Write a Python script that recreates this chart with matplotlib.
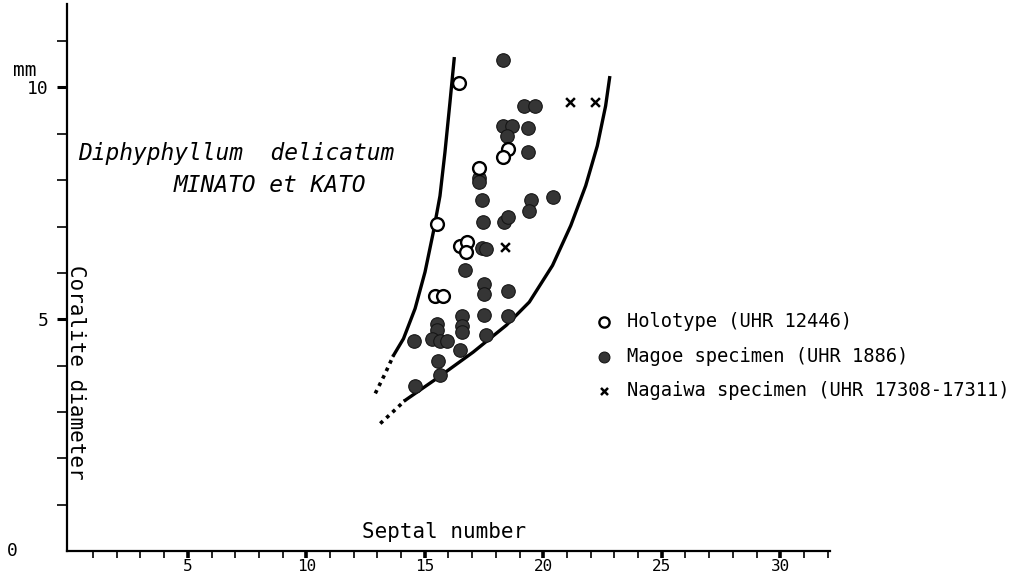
import numpy as np
import matplotlib
matplotlib.use("Agg")
import matplotlib.pyplot as plt
from matplotlib.ticker import FixedLocator

# data (septal number, corallite diameter in mm)
holotype_x = [16.43, 18.5, 18.28, 17.3, 15.5, 16.48, 16.77, 16.73, 15.43, 15.77]
holotype_y = [10.1, 8.67, 8.49, 8.26, 7.05, 6.58, 6.67, 6.45, 5.5, 5.5]

magoe_x = [18.28, 19.2, 19.66, 18.28, 18.7, 18.45, 19.37, 19.37, 17.3, 17.3,
           17.4, 19.5, 19.41, 20.4, 17.44, 18.36, 18.5, 17.4, 17.6, 16.69,
           17.48, 17.48, 18.5, 17.48, 18.5, 16.56, 16.56, 16.56, 15.5, 15.5,
           15.3, 15.64, 15.93, 14.55, 16.48, 17.57, 15.56, 15.64, 14.6]
magoe_y = [10.6, 9.61, 9.61, 9.16, 9.16, 8.95, 9.12, 8.6, 8.04, 7.95,
           7.57, 7.57, 7.33, 7.63, 7.1, 7.1, 7.2, 6.54, 6.52, 6.06,
           5.76, 5.55, 5.61, 5.1, 5.08, 5.08, 4.86, 4.73, 4.9, 4.76,
           4.58, 4.54, 4.52, 4.52, 4.34, 4.65, 4.09, 3.79, 3.55]

nagaiwa_x = [21.13, 22.18, 18.4]
nagaiwa_y = [9.68, 9.68, 6.56]

# hand-drawn envelope lines (dotted lower ends, then solid)
left_dot_x = [12.91, 13.3, 13.68]
left_dot_y = [3.4, 3.8, 4.22]
left_x = [13.68, 14.1, 14.59, 15.01, 15.36, 15.64, 15.85, 16.06, 16.24]
left_y = [4.22, 4.58, 5.23, 6.02, 6.88, 7.66, 8.6, 9.67, 10.62]

right_dot_x = [13.12, 13.65, 14.17]
right_dot_y = [2.75, 3.0, 3.25]
right_x = [14.17, 15.5, 17.04, 18.44, 19.41, 20.39, 21.16, 21.79, 22.28, 22.63, 22.8]
right_y = [3.25, 3.72, 4.29, 4.87, 5.37, 6.16, 7.02, 7.88, 8.74, 9.6, 10.21]

x_major = [5, 10, 15, 20, 25, 30]
y_major = [5, 10]

legend_labels = ["Holotype (UHR 12446)", "Magoe specimen (UHR 1886)",
                 "Nagaiwa specimen (UHR 17308-17311)"]

MONO = "DejaVu Sans Mono"
W, H = 1015, 579

fig = plt.figure(figsize=(W / 100, H / 100), dpi=100)
ax = fig.add_axes([67 / W, 28 / H, 763 / W, 547 / H])
ax.set_xlim(-0.1, 32.1)
ax.set_ylim(0, 11.8)

for s in ["top", "right"]:
    ax.spines[s].set_visible(False)
for s in ["left", "bottom"]:
    ax.spines[s].set_linewidth(1.6)

ax.xaxis.set_major_locator(FixedLocator(x_major))
ax.xaxis.set_minor_locator(FixedLocator([v for v in range(1, 33) if v not in x_major]))
ax.yaxis.set_major_locator(FixedLocator(y_major))
ax.yaxis.set_minor_locator(FixedLocator([v for v in range(1, 12) if v not in y_major]))
ax.set_xticklabels([str(v) for v in x_major])
ax.set_yticklabels([str(v) for v in y_major])
ax.tick_params(axis="x", which="major", length=5, width=2.6, pad=1, labelsize=11.5)
ax.tick_params(axis="x", which="minor", length=5, width=1.2)
ax.tick_params(axis="y", which="major", length=7, width=2.2, pad=6, labelsize=13)
ax.tick_params(axis="y", which="minor", length=7, width=1.2)
for lab in ax.get_xticklabels() + ax.get_yticklabels():
    lab.set_family(MONO)

# envelope curves
ax.plot(left_dot_x, left_dot_y, color="black", lw=2.6, ls=(0, (1, 1.3)))
ax.plot(left_x, left_y, color="black", lw=2.4, solid_joinstyle="round")
ax.plot(right_dot_x, right_dot_y, color="black", lw=2.6, ls=(0, (1, 1.3)))
ax.plot(right_x, right_y, color="black", lw=2.4, solid_joinstyle="round")

ax.scatter(magoe_x, magoe_y, s=95, facecolor="#353535", edgecolor="#151515",
           linewidths=0.8, zorder=3, label=legend_labels[1])
ax.scatter(holotype_x, holotype_y, s=85, facecolor="white", edgecolor="black",
           linewidths=1.7, zorder=4, label=legend_labels[0])
ax.scatter(nagaiwa_x, nagaiwa_y, s=40, marker="x", color="black",
           linewidths=1.8, zorder=4, label=legend_labels[2])

handles, labels = ax.get_legend_handles_labels()
order = [labels.index(l) for l in legend_labels]
ax.legend([handles[i] for i in order], [labels[i] for i in order],
          loc="upper left", bbox_to_anchor=(585 / W, 1 - 303 / H),
          bbox_transform=fig.transFigure, frameon=False,
          prop={"family": MONO, "size": 13.5}, handlelength=1.0,
          handletextpad=0.75, labelspacing=0.82, borderpad=0,
          markerscale=0.8, scatterpoints=1)

# text labels
fig.text(78 / W, 1 - 160 / H, "Diphyphyllum  delicatum", family=MONO,
         style="italic", fontsize=16.5, ha="left", va="baseline")
fig.text(270 / W, 1 - 192 / H, "MINATO et KATO", family=MONO,
         style="italic", fontsize=16.5, ha="center", va="baseline")
fig.text(444 / W, 1 - 538 / H, "Septal number", family=MONO, fontsize=15,
         ha="center", va="baseline")
fig.text(76 / W, 1 - 372 / H, "Coralite diameter", family=MONO, fontsize=15,
         rotation=270, ha="center", va="center")
fig.text(25 / W, 1 - 70 / H, "mm", family=MONO, fontsize=14, ha="center", va="center")
fig.text(12 / W, 1 - 551 / H, "0", family=MONO, fontsize=13, ha="center", va="center")

fig.savefig("out.png", dpi=100)
